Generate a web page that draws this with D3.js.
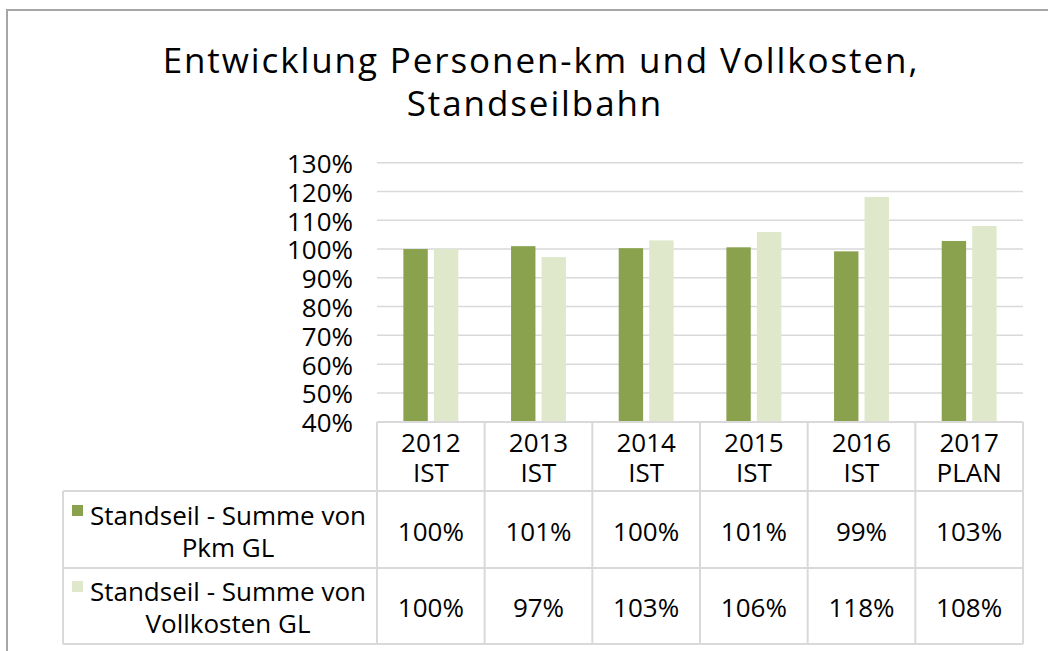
<!DOCTYPE html>
<meta charset="utf-8">
<body style="margin:0;background:#fff">
    <div id='chart'></div>
</body>
<script src="https://d3js.org/d3.v7.min.js"></script>
<style>
    text { font-family: "Open Sans", "Noto Sans", sans-serif; fill: #000; }
    .grid line { stroke: #d9d9d9; stroke-width: 1.5px; }
    .tbl line { stroke: #d9d9d9; stroke-width: 2px; }
</style>
<script>
    // data
    var years = ["2012", "2013", "2014", "2015", "2016", "2017"];
    var yearTags = ["IST", "IST", "IST", "IST", "IST", "PLAN"];
    var seriesNames = [
        ["Standseil - Summe von", "Pkm GL"],
        ["Standseil - Summe von", "Vollkosten GL"]
    ];
    var pkm = [1.00, 1.01, 1.003, 1.006, 0.992, 1.028];
    var vollkosten = [1.00, 0.972, 1.03, 1.059, 1.181, 1.08];
    var seriesColors = ["#8aa24e", "#dfe8ca"];
    var yTicks = [0.4, 0.5, 0.6, 0.7, 0.8, 0.9, 1.0, 1.1, 1.2, 1.3];

    var width = 1048,
        height = 651;

    var svg = d3.select("#chart").append("svg")
        .attr("width", width)
        .attr("height", height);

    // outer frame (only top/left show in the crop)
    svg.append("path")
        .attr("d", "M7," + height + "V10H" + width)
        .attr("fill", "none")
        .attr("stroke", "#a6a6a6")
        .attr("stroke-width", 2);

    // title
    var title = svg.append("text")
        .attr("text-anchor", "middle")
        .attr("font-size", 35)
        .attr("letter-spacing", "1.9px");
    title.append("tspan").attr("x", 541).attr("y", 73).text("Entwicklung Personen-km und Vollkosten,");
    title.append("tspan").attr("x", 535).attr("y", 116).text("Standseilbahn");

    var x = d3.scaleBand().domain(years).range([377, 1023]).paddingInner(0).paddingOuter(0);
    var bw = x.bandwidth();
    var x1 = d3.scaleBand().domain([0, 1]).range([bw * 0.245, bw * 0.755]).paddingInner(0.2);
    var y = d3.scaleLinear().domain([0.4, 1.3]).range([421.7, 162.7]);
    var fmt = d3.format(".0%");

    // gridlines
    svg.append("g").attr("class", "grid")
        .selectAll("line").data(yTicks.slice(1)).enter().append("line")
        .attr("x1", 377).attr("x2", 1023)
        .attr("y1", function(d) { return y(d); })
        .attr("y2", function(d) { return y(d); });

    // y axis labels
    var yAxis = d3.axisLeft(y).tickValues(yTicks).tickFormat(fmt).tickSize(0).tickPadding(24);
    var ya = svg.append("g").attr("transform", "translate(377,0)").call(yAxis);
    ya.select(".domain").remove();
    ya.selectAll("text")
        .attr("font-size", 26)
        .attr("font-family", "'Open Sans', 'Noto Sans', sans-serif")
        .attr("fill", "#000")
        .attr("dy", "0.38em");

    // bars
    var series = [pkm, vollkosten];
    series.forEach(function(vals, si) {
        svg.append("g")
            .selectAll("rect").data(vals).enter().append("rect")
            .attr("x", function(d, i) { return x(years[i]) + x1(si); })
            .attr("width", x1.bandwidth())
            .attr("y", function(d) { return y(d); })
            .attr("height", function(d) { return y(0.4) - y(d); })
            .attr("fill", seriesColors[si]);
    });

    // data table
    var rowTop = 422, rowHead = 491, row1 = 568, row2 = 644, legLeft = 63;
    var tbl = svg.append("g").attr("class", "tbl");
    tbl.append("line").attr("x1", 377).attr("x2", 1023).attr("y1", rowTop).attr("y2", rowTop);
    [rowHead, row1, row2].forEach(function(yy) {
        tbl.append("line").attr("x1", legLeft).attr("x2", 1023).attr("y1", yy).attr("y2", yy);
    });
    tbl.append("line").attr("x1", legLeft).attr("x2", legLeft).attr("y1", rowHead).attr("y2", row2);
    years.concat(["end"]).forEach(function(yr, i) {
        var xx = i < years.length ? x(yr) : 1023;
        tbl.append("line").attr("x1", xx).attr("x2", xx).attr("y1", rowTop).attr("y2", row2);
    });

    // header
    var head = svg.append("g").selectAll("text").data(years).enter().append("text")
        .attr("text-anchor", "middle")
        .attr("font-size", 26);
    head.append("tspan")
        .attr("x", function(d) { return x(d) + bw / 2; })
        .attr("y", 452)
        .text(function(d) { return d; });
    head.append("tspan")
        .attr("x", function(d) { return x(d) + bw / 2; })
        .attr("y", 482)
        .text(function(d, i) { return yearTags[i]; });

    // legend + values
    var rowBase = [525, 601];
    seriesNames.forEach(function(lines, si) {
        svg.append("rect")
            .attr("x", 72).attr("y", rowBase[si] - 20)
            .attr("width", 11).attr("height", 11)
            .attr("fill", seriesColors[si]);
        var t = svg.append("text").attr("text-anchor", "middle").attr("font-size", 26);
        lines.forEach(function(l, li) {
            t.append("tspan").attr("x", 228).attr("y", rowBase[si] + li * 31.5).text(l);
        });
        svg.append("g").selectAll("text").data(series[si]).enter().append("text")
            .attr("text-anchor", "middle")
            .attr("font-size", 26)
            .attr("x", function(d, i) { return x(years[i]) + bw / 2; })
            .attr("y", rowBase[si] + 16)
            .text(function(d) { return fmt(d); });
    });
</script>
